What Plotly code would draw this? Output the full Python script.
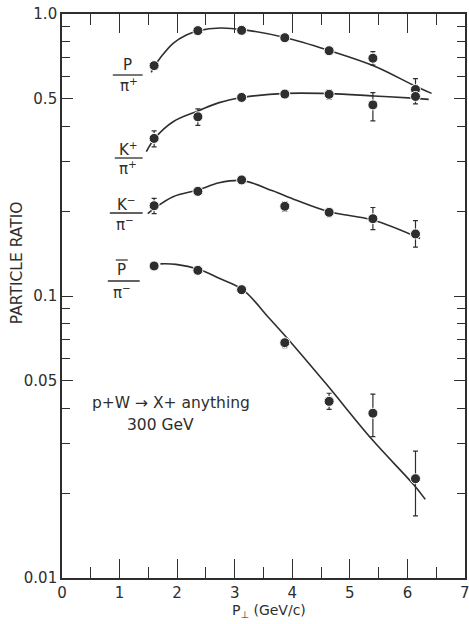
import plotly.graph_objects as go

# ---------------- data ----------------
pt = [1.60, 2.36, 3.12, 3.87, 4.64, 5.40, 6.14]

p_pi = [0.656, 0.873, 0.875, 0.824, 0.741, 0.697, 0.540]
p_pi_up = [0, 0, 0, 0, 0, 0.038, 0.05]
p_pi_dn = [0, 0, 0, 0, 0, 0.038, 0.04]

kp_pi = [0.362, 0.432, 0.506, 0.520, 0.519, 0.476, 0.510]
kp_pi_up = [0.023, 0.029, 0, 0.015, 0.019, 0.050, 0.03]
kp_pi_dn = [0.024, 0.029, 0, 0.014, 0.020, 0.058, 0.03]

km_pi = [0.209, 0.235, 0.258, 0.208, 0.198, 0.188, 0.166]
km_pi_up = [0.013, 0, 0, 0.008, 0.006, 0.018, 0.019]
km_pi_dn = [0.013, 0, 0, 0.008, 0.007, 0.016, 0.017]

pbar_pi = [0.1278, 0.1233, 0.1053, 0.0683, 0.0423, 0.0384, 0.0225]
pbar_pi_up = [0, 0, 0, 0.0019, 0.0029, 0.0065, 0.0057]
pbar_pi_dn = [0, 0, 0, 0.0027, 0.0027, 0.0067, 0.0059]

# smooth fitted curves
cx_p = [1.55, 1.61, 1.70, 1.93, 2.16, 2.375, 2.75, 3.14, 3.89, 4.65, 5.42, 6.16, 6.42]
cy_p = [0.621, 0.656, 0.696, 0.787, 0.842, 0.873, 0.892, 0.880, 0.824, 0.741, 0.654, 0.552, 0.523]

cx_kp = [1.465, 1.61, 1.93, 2.375, 2.73, 3.14, 3.89, 4.65, 5.42, 6.16, 6.37]
cy_kp = [0.325, 0.362, 0.415, 0.454, 0.485, 0.506, 0.523, 0.522, 0.512, 0.502, 0.498]

cx_km = [1.49, 1.61, 1.93, 2.375, 2.73, 3.14, 3.66, 4.06, 4.64, 5.40, 6.22]
cy_km = [0.196, 0.205, 0.225, 0.238, 0.252, 0.2565, 0.236, 0.219, 0.199, 0.186, 0.160]

cx_pb = [1.71, 1.98, 2.375, 2.73, 3.14, 3.60, 3.89, 4.58, 5.39, 6.11, 6.31]
cy_pb = [0.130, 0.1295, 0.1244, 0.1156, 0.1053, 0.0834, 0.0717, 0.049, 0.0309, 0.0214, 0.019]

y_ticks = [0.01, 0.05, 0.1, 0.5, 1.0]
y_ticktext = ["0.01", "0.05", "0.1", "0.5", "1.0"]
y_minor = [0.02, 0.03, 0.04, 0.06, 0.07, 0.08, 0.09, 0.2, 0.3, 0.4, 0.6, 0.7, 0.8, 0.9]

INK = "#2e2e2e"
FONT = "DejaVu Sans"

fig = go.Figure()

curves = [(cx_p, cy_p), (cx_kp, cy_kp), (cx_km, cy_km), (cx_pb, cy_pb)]
for cx, cy in curves:
    fig.add_trace(go.Scatter(x=cx, y=cy, mode="lines",
                             line=dict(color=INK, width=1.6, shape="spline", smoothing=1.0),
                             hoverinfo="skip", showlegend=False))

series = [(p_pi, p_pi_up, p_pi_dn), (kp_pi, kp_pi_up, kp_pi_dn),
          (km_pi, km_pi_up, km_pi_dn), (pbar_pi, pbar_pi_up, pbar_pi_dn)]
for vals, up, dn in series:
    fig.add_trace(go.Scatter(
        x=pt, y=vals, mode="markers",
        marker=dict(size=10, color=INK, line=dict(color="white", width=1)),
        error_y=dict(type="data", symmetric=False, array=up, arrayminus=dn,
                     color=INK, thickness=1.2, width=2.5),
        showlegend=False))

# ---------------- layout helpers ----------------
X0, X1, YT, YB = 62.0, 466.6, 14.0, 578.0
W, H = 469, 624


def pxx(x):
    return (x - X0) / (X1 - X0)


def pyy(y):
    return (YB - y) / (YB - YT)


annos = []
shapes = []


def txt(x, y, s, size=14, anchor="center", angle=0):
    annos.append(dict(x=pxx(x), y=pyy(y), xref="paper", yref="paper", text=s,
                      showarrow=False, xanchor=anchor, yanchor="middle",
                      textangle=angle, font=dict(family=FONT, size=size, color=INK)))


def hline(x0, x1, y, w=1.3):
    shapes.append(dict(type="line", xref="paper", yref="paper",
                       x0=pxx(x0), x1=pxx(x1), y0=pyy(y), y1=pyy(y),
                       line=dict(color=INK, width=w)))


# fraction labels
txt(128, 65, "P", 15)
hline(113, 143, 75)
txt(129, 85, "π<sup>+</sup>", 15)

txt(129, 149, "K<sup>+</sup>", 15)
hline(115, 143, 158)
txt(128, 168, "π<sup>+</sup>", 15)

txt(127, 204, "K<sup>−</sup>", 15)
hline(110, 143, 213)
txt(125, 224, "π<sup>−</sup>", 15)

txt(122, 270, "P", 15)
hline(116, 128, 260, 1.2)
hline(108, 140, 281)
txt(122, 292, "π<sup>−</sup>", 15)

# reaction text
txt(90, 403, "p+W → X+ anything", 15.5, anchor="left")
txt(125, 425, "300 GeV", 15.5, anchor="left")

# axis titles
txt(17, 263, "PARTICLE RATIO", 15.5, angle=-90)
txt(270, 611, "P<sub>⊥</sub> (GeV/c)", 14)
# last x tick label (at the page edge)
txt(467, 593, "7", 15)

fig.update_layout(
    width=W, height=H,
    margin=dict(l=X0, r=W - X1, t=YT, b=H - YB, pad=0),
    paper_bgcolor="white", plot_bgcolor="white",
    annotations=annos, shapes=shapes,
    font=dict(family=FONT, size=15, color=INK),
    showlegend=False,
)

fig.update_xaxes(
    range=[0, 7], tickmode="linear", tick0=0, dtick=1,
    ticks="inside", ticklen=19, tickwidth=1.3, tickcolor=INK,
    minor=dict(ticks="inside", dtick=0.5, tick0=0, ticklen=11, tickwidth=1.3, tickcolor=INK),
    showline=True, linecolor=INK, linewidth=1.6, mirror="ticks",
    showgrid=False, zeroline=False,
    tickfont=dict(family=FONT, size=15, color=INK),
)

fig.update_yaxes(
    type="log", range=[-2, 0],
    tickmode="array", tickvals=y_ticks, ticktext=y_ticktext,
    ticks="inside", ticklen=11, tickwidth=1.3, tickcolor=INK,
    minor=dict(ticks="inside", tickmode="array", tickvals=y_minor, ticklen=8,
               tickwidth=1.3, tickcolor=INK),
    showline=True, linecolor=INK, linewidth=1.6, mirror="ticks",
    showgrid=False, zeroline=False,
    tickfont=dict(family=FONT, size=15, color=INK),
)

fig.write_html("out.html")
